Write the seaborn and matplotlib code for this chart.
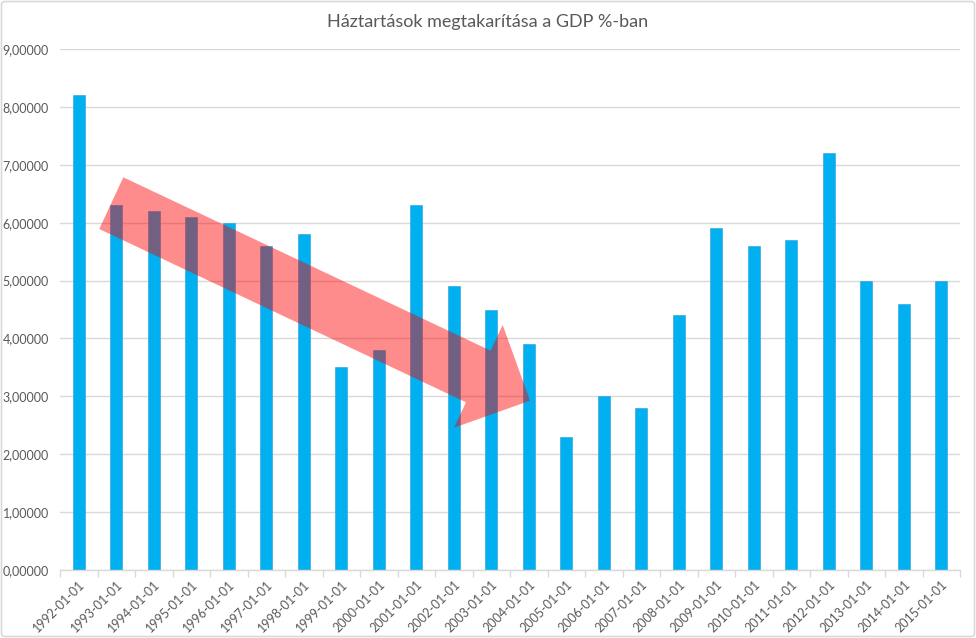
import matplotlib
matplotlib.use("Agg")
import matplotlib.pyplot as plt
import seaborn as sns
import pandas as pd
from matplotlib.patches import Polygon, FancyBboxPatch
from matplotlib.ticker import FuncFormatter, MultipleLocator

years = [f"{y}-01-01" for y in range(1992, 2016)]
values = [8.2, 6.3, 6.2, 6.1, 6.0, 5.6, 5.8, 3.5, 3.8, 6.3, 4.9, 4.5,
          3.9, 2.3, 3.0, 2.8, 4.4, 5.9, 5.6, 5.7, 7.2, 5.0, 4.6, 5.0]
title = "Háztartások megtakarítása a GDP %-ban"

df = pd.DataFrame({"date": years, "value": values})

sns.set_theme(style="white")
plt.rcParams['font.family'] = ['Lato', 'DejaVu Sans']

W, H = 976, 638
fig = plt.figure(figsize=(W / 100, H / 100), dpi=100)
ax = fig.add_axes([60 / W, 1 - 570 / H, 900 / W, 521 / H])

sns.barplot(data=df, x="date", y="value", color="#00B0F0", saturation=1,
            width=0.33, ax=ax, edgecolor="#2E9BD6", linewidth=0.4)

ax.set_ylim(0, 9)
ax.set_xlim(-0.5, len(years) - 0.5)
ax.yaxis.set_major_locator(MultipleLocator(1))
ax.yaxis.set_major_formatter(FuncFormatter(lambda v, p: f"{v:.5f}".replace(".", ",")))
ax.grid(axis="y", color="#D9D9D9", linewidth=1)
ax.set_axisbelow(True)
for s in ["top", "right", "left"]:
    ax.spines[s].set_visible(False)
ax.spines["bottom"].set_color("#D9D9D9")
ax.spines["bottom"].set_linewidth(1)

ax.set_xlabel("")
ax.set_ylabel("")
ax.tick_params(axis="y", length=0, labelsize=9, labelcolor="#595959", pad=8)
ax.tick_params(axis="x", which="major", length=0, labelsize=9, labelcolor="#595959", pad=6)
ax.set_xticks(range(len(years)))
ax.set_xticklabels(years, rotation=45, ha="right", rotation_mode="anchor")
ax.set_xticks([i - 0.5 for i in range(len(years) + 1)], minor=True)
ax.tick_params(axis="x", which="minor", length=5, color="#D9D9D9", width=1, bottom=True)

fig.text(0.5, 1 - 22 / H, title, ha="center", va="center", fontsize=13, color="#595959")

# red overlay arrow (annotation), in pixel coordinates
pts = [(123.3, 177.3), (490.7, 350.7), (502.7, 325), (530, 400.7),
       (454, 427.7), (466, 402.3), (99.3, 229)]
pts = [(x / W, 1 - y / H) for x, y in pts]
fig.patches.append(Polygon(pts, closed=True, transform=fig.transFigure,
                           facecolor="#FF0000", alpha=0.45, edgecolor="none", zorder=10))

# outer border
fig.patches.append(FancyBboxPatch((1.5 / W, 1.5 / H), (W - 3) / W, (H - 3) / H,
                                  boxstyle="round,pad=0,rounding_size=0.004",
                                  transform=fig.transFigure, facecolor="none",
                                  edgecolor="#D9D9D9", linewidth=1.2))

fig.savefig("out.png", dpi=100)
